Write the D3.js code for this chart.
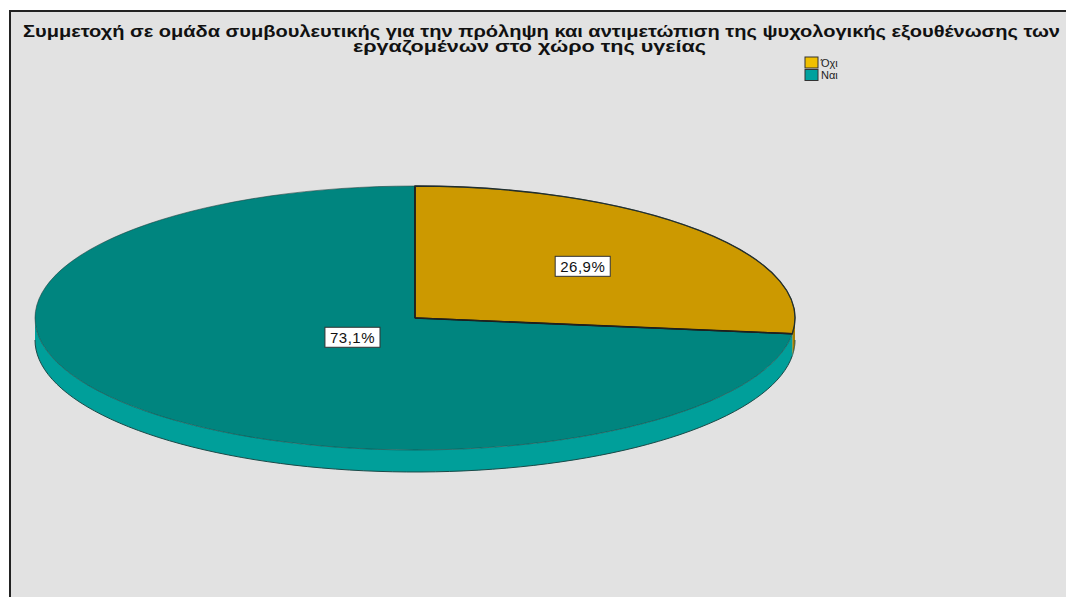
<!DOCTYPE html>
<html>
<head>
<meta charset="utf-8">
<script src="https://cdn.jsdelivr.net/npm/d3@7"></script>
<style>
  html, body { margin: 0; padding: 0; background: #ffffff; }
  svg { display: block; }
</style>
</head>
<body>
<script>
// Survey answers and their shares (percent)
const categories = ["Όχι", "Ναι"];
const values = [26.9, 73.1];
const valueLabels = ["26,9%", "73,1%"];
const topColors = ["#cc9900", "#00857f"];
const sideColors = ["#a87e00", "#009f9a"];
const legendColors = ["#f0c000", "#00a19e"];
const titleLines = [
  "Συμμετοχή σε ομάδα συμβουλευτικής για την πρόληψη και αντιμετώπιση της ψυχολογικής εξουθένωσης των",
  "εργαζομένων στο χώρο της υγείας"
];

const W = 1066, H = 597;
const svg = d3.select("body").append("svg").attr("width", W).attr("height", H);

// Panel background with frame
svg.append("rect").attr("x", 10).attr("y", 11).attr("width", W + 10).attr("height", H + 10)
  .attr("fill", "#e2e2e2").attr("stroke", "#222").attr("stroke-width", 2);

// Title
const titleG = svg.append("g")
  .attr("font-family", "'Liberation Sans', Arial, sans-serif")
  .attr("font-weight", "bold").attr("font-size", 16).attr("fill", "#111");
titleG.append("text").attr("x", 23).attr("y", 37)
  .attr("textLength", 1037).attr("lengthAdjust", "spacingAndGlyphs").text(titleLines[0]);
titleG.append("text").attr("x", 353).attr("y", 52)
  .attr("textLength", 353).attr("lengthAdjust", "spacingAndGlyphs").text(titleLines[1]);

// Legend
const legend = svg.append("g").attr("transform", "translate(805,57)");
categories.forEach((c, i) => {
  const g = legend.append("g").attr("transform", `translate(0,${i * 12.5})`);
  g.append("rect").attr("width", 13).attr("height", 11)
    .attr("fill", legendColors[i]).attr("stroke", "#333").attr("stroke-width", 1);
  g.append("text").attr("x", 16).attr("y", 9.5)
    .attr("font-family", "'Liberation Sans', Arial, sans-serif").attr("font-size", 11)
    .attr("fill", "#222").text(c);
});

// 3D pie geometry
const cx = 415, cy = 318, rx = 380, ry = 132, depth = 22;
const pie = d3.pie().sort(null).value(d => d)(values);
const pt = (a, r = 1, dy = 0) => [cx + rx * r * Math.sin(a), cy - ry * r * Math.cos(a) + dy];

const sideG = svg.append("g");
const topG = svg.append("g");

pie.forEach((s, i) => {
  // side wall: only the part facing the viewer (angles between PI/2 and 3PI/2)
  const a0 = Math.max(s.startAngle, Math.PI / 2);
  const a1 = Math.min(s.endAngle, 3 * Math.PI / 2);
  if (a1 > a0) {
    const n = 80;
    const angles = d3.range(n + 1).map(k => a0 + (a1 - a0) * k / n);
    const upper = angles.map(a => pt(a));
    const lower = angles.slice().reverse().map(a => pt(a, 1, depth));
    sideG.append("path")
      .attr("d", d3.line()(upper.concat(lower)) + "Z")
      .attr("fill", sideColors[i]).attr("stroke", "none");
    sideG.append("path")
      .attr("d", d3.line()(angles.map(a => pt(a, 1, depth))))
      .attr("fill", "none").attr("stroke", "#1a4a48").attr("stroke-width", 1);
  }
  // top face: circular arc squeezed into an ellipse
  topG.append("path")
    .attr("transform", `translate(${cx},${cy}) scale(1,${ry / rx})`)
    .attr("d", d3.arc().innerRadius(0).outerRadius(rx)(s))
    .attr("fill", topColors[i]);
});

// slice boundaries and rim
pie.forEach(s => {
  const p = pt(s.startAngle);
  topG.append("line").attr("x1", cx).attr("y1", cy).attr("x2", p[0]).attr("y2", p[1])
    .attr("stroke", "#111").attr("stroke-width", 1.5);
});
// outline of the smaller slice
{
  const s = pie[0];
  topG.append("path")
    .attr("transform", `translate(${cx},${cy}) scale(1,${ry / rx})`)
    .attr("d", d3.arc().innerRadius(0).outerRadius(rx)(s))
    .attr("fill", "none").attr("stroke", "#222").attr("stroke-width", 1.3)
    .attr("vector-effect", "non-scaling-stroke");
}
topG.append("ellipse").attr("cx", cx).attr("cy", cy).attr("rx", rx).attr("ry", ry)
  .attr("fill", "none").attr("stroke", "#1c3f3d").attr("stroke-width", 0.8).attr("opacity", 0.7);

// value labels
const labelFrac = [0.59, 0.22];
pie.forEach((s, i) => {
  const mid = (s.startAngle + s.endAngle) / 2;
  const [x, y] = pt(mid, labelFrac[i]);
  const g = svg.append("g").attr("transform", `translate(${x},${y})`);
  const t = g.append("text").attr("text-anchor", "middle").attr("dy", "0.36em")
    .attr("font-family", "'Liberation Sans', Arial, sans-serif").attr("font-size", 15)
    .attr("letter-spacing", 0.5).attr("fill", "#111").text(valueLabels[i]);
  const b = t.node().getBBox();
  g.insert("rect", "text").attr("x", b.x - 5).attr("y", -10).attr("width", b.width + 10).attr("height", 20)
    .attr("fill", "#fff").attr("stroke", "#333").attr("stroke-width", 1);
});
</script>
</body>
</html>
